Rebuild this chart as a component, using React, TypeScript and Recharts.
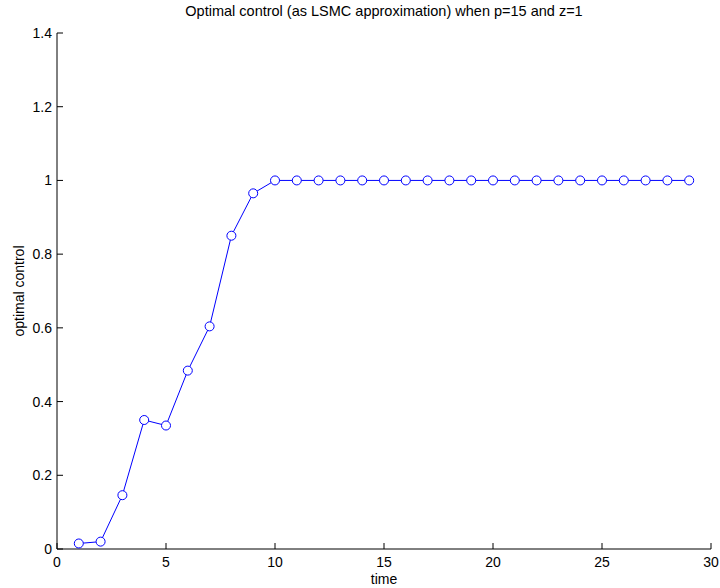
import { CartesianGrid, Line, LineChart, XAxis, YAxis } from "recharts";

const times = [1, 2, 3, 4, 5, 6, 7, 8, 9, 10, 11, 12, 13, 14, 15, 16, 17, 18, 19, 20, 21, 22, 23, 24, 25, 26, 27, 28, 29];
const controlValues = [
  0.015, 0.02, 0.146, 0.35, 0.335, 0.484, 0.604, 0.85, 0.965, 1,
  1, 1, 1, 1, 1, 1, 1, 1, 1, 1,
  1, 1, 1, 1, 1, 1, 1, 1, 1,
];
const xTicks = [0, 5, 10, 15, 20, 25, 30];
const yTicks = [0, 0.2, 0.4, 0.6, 0.8, 1, 1.2, 1.4];

const chartData = times.map((t, i) => ({ time: t, control: controlValues[i] }));

const font = "'Liberation Sans', Arial, Helvetica, sans-serif";

export default function App() {
  return (
    <div style={{ position: "absolute", left: 0, top: 0, width: 720, height: 588, background: "#fff", fontFamily: font }}>
      <LineChart width={720} height={588} data={chartData} margin={{ top: 33, right: 9, left: 0, bottom: 0 }}>
        <XAxis
          dataKey="time"
          type="number"
          domain={[0, 30]}
          ticks={xTicks}
          height={39}
          tickSize={-6}
          tickMargin={14}
          stroke="#000"
          tick={{ fill: "#000", fontSize: 14, fontFamily: font }}
          label={{ value: "time", position: "insideBottom", offset: 4, fill: "#000", fontSize: 14, fontFamily: font }}
        />
        <YAxis
          type="number"
          domain={[0, 1.4]}
          ticks={yTicks}
          width={57}
          tickSize={-6}
          tickMargin={11}
          stroke="#000"
          tick={{ fill: "#000", fontSize: 14, fontFamily: font }}
        />
        <Line
          dataKey="control"
          stroke="#0000ff"
          strokeWidth={1}
          dot={{ r: 4.5, stroke: "#0000ff", strokeWidth: 1, fill: "#fff" }}
          activeDot={false}
          isAnimationActive={false}
        />
      </LineChart>
      <div style={{ position: "absolute", left: 0, width: 768, top: 3, textAlign: "center", fontSize: 14.5, color: "#000" }}>
        Optimal control (as LSMC approximation) when p=15 and z=1
      </div>
      <div
        style={{
          position: "absolute",
          left: 19,
          top: 291,
          transform: "translate(-50%, -50%) rotate(-90deg)",
          whiteSpace: "nowrap",
          fontSize: 14,
          color: "#000",
        }}
      >
        optimal control
      </div>
    </div>
  );
}
